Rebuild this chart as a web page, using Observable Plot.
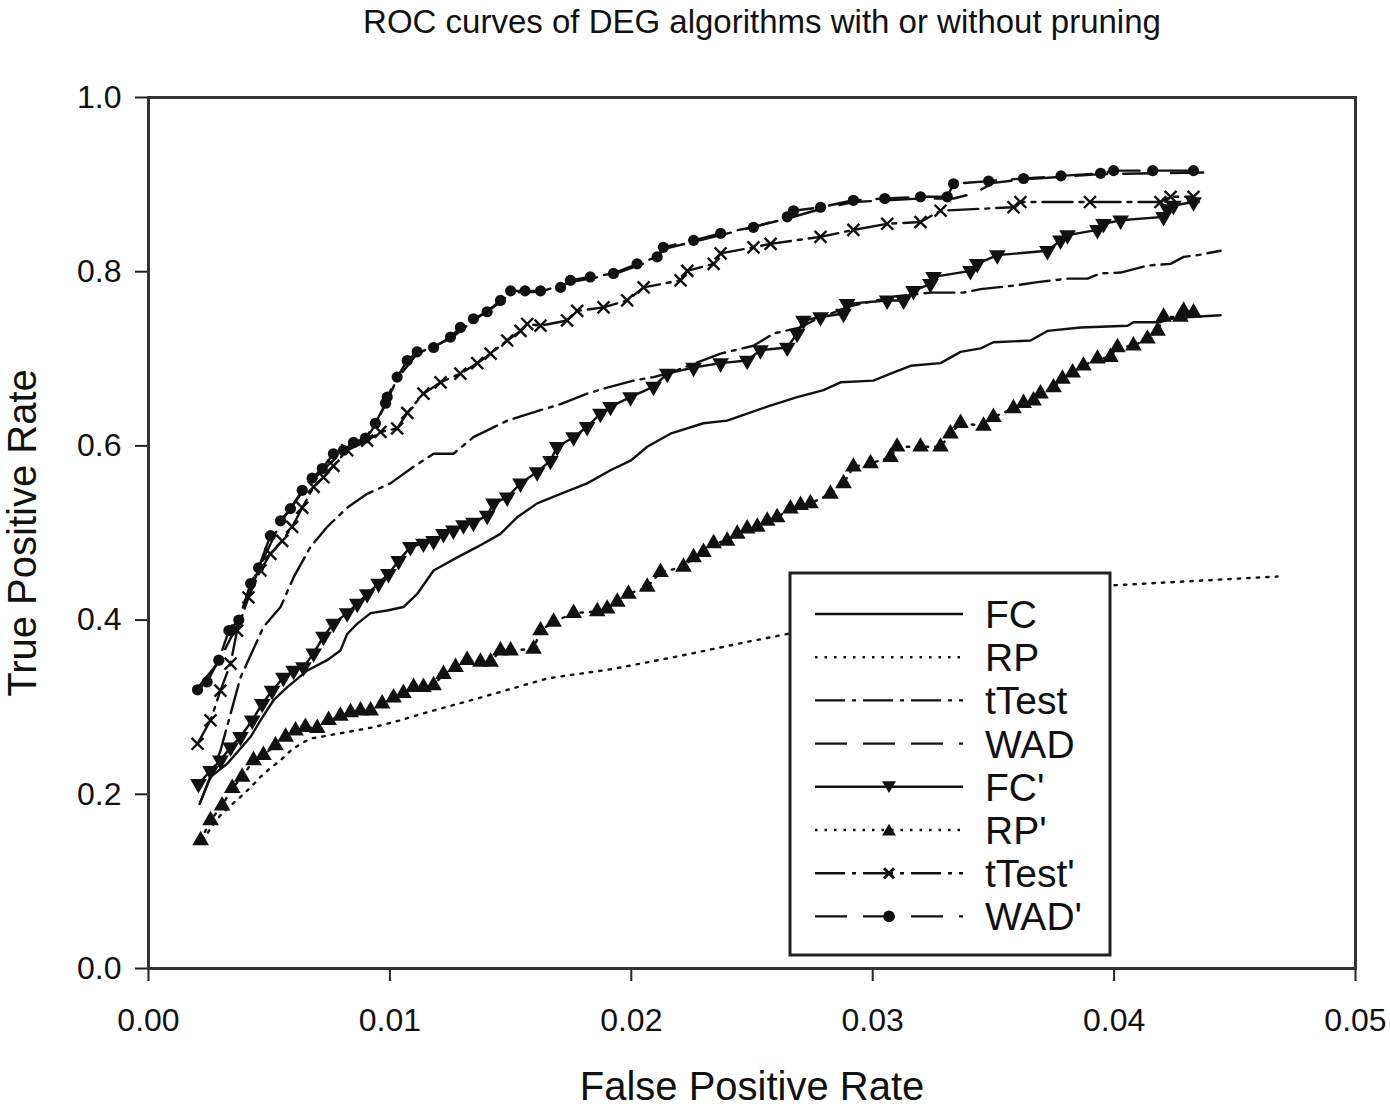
<!DOCTYPE html>
<html><head><meta charset="utf-8">
<script src="https://cdn.jsdelivr.net/npm/d3@7"></script>
<script src="https://cdn.jsdelivr.net/npm/@observablehq/plot@0.6"></script>
<style>body{margin:0;background:#fff;} #chart{width:1390px;height:1111px;}</style>
</head><body><div id="chart"></div>
<script>
const title = "ROC curves of DEG algorithms with or without pruning";
const xLabel = "False Positive Rate";
const yLabel = "True Positive Rate";
const xTicks = [0, 0.01, 0.02, 0.03, 0.04, 0.05];
const yTicks = [0, 0.2, 0.4, 0.6, 0.8, 1.0];
const seriesNames = ["FC", "RP", "tTest", "WAD", "FC'", "RP'", "tTest'", "WAD'"];

// [false positive rate, true positive rate]
const FC = [[0.00212,0.189],[0.00257,0.220],[0.00326,0.235],[0.00423,0.266],[0.00464,0.285],[0.00518,0.308],[0.00575,0.323],[0.00657,0.342],[0.00740,0.354],[0.00795,0.365],[0.00823,0.384],[0.00865,0.396],[0.00920,0.408],[0.00989,0.411],[0.01056,0.415],[0.01113,0.430],[0.01181,0.457],[0.01279,0.472],[0.01362,0.484],[0.01458,0.499],[0.01527,0.518],[0.01610,0.534],[0.01707,0.545],[0.01817,0.557],[0.01914,0.572],[0.01997,0.583],[0.02066,0.599],[0.02162,0.614],[0.02299,0.626],[0.02397,0.629],[0.02480,0.637],[0.02563,0.645],[0.02687,0.656],[0.02796,0.664],[0.02867,0.673],[0.03003,0.675],[0.03074,0.683],[0.03157,0.692],[0.03281,0.695],[0.03364,0.708],[0.03447,0.712],[0.03500,0.719],[0.03654,0.721],[0.03724,0.732],[0.03861,0.736],[0.04056,0.738],[0.04080,0.742],[0.04192,0.742],[0.04234,0.746],[0.04316,0.748],[0.04441,0.750]];
const RP = [[0.00225,0.147],[0.00260,0.162],[0.00298,0.176],[0.00340,0.187],[0.00381,0.197],[0.00423,0.208],[0.00464,0.220],[0.00505,0.230],[0.00547,0.239],[0.00588,0.250],[0.00630,0.258],[0.00671,0.264],[0.00754,0.268],[0.00932,0.277],[0.01044,0.285],[0.01139,0.293],[0.01375,0.311],[0.01652,0.333],[0.01926,0.344],[0.02204,0.359],[0.02480,0.375],[0.02646,0.384],[0.03000,0.400],[0.03500,0.420],[0.03998,0.440],[0.04677,0.450]];
const tTest = [[0.00212,0.189],[0.00298,0.250],[0.00381,0.334],[0.00476,0.392],[0.00547,0.415],[0.00601,0.449],[0.00671,0.484],[0.00740,0.507],[0.00823,0.529],[0.00906,0.545],[0.01002,0.557],[0.01098,0.576],[0.01181,0.591],[0.01263,0.591],[0.01346,0.610],[0.01486,0.629],[0.01624,0.641],[0.01707,0.648],[0.01817,0.660],[0.01900,0.667],[0.02009,0.675],[0.02092,0.679],[0.02162,0.684],[0.02370,0.706],[0.02506,0.715],[0.02589,0.729],[0.02701,0.736],[0.02755,0.744],[0.02900,0.760],[0.03100,0.772],[0.03239,0.776],[0.03376,0.776],[0.03447,0.780],[0.03583,0.784],[0.03683,0.788],[0.03807,0.792],[0.03890,0.792],[0.03944,0.798],[0.04027,0.799],[0.04138,0.807],[0.04234,0.809],[0.04288,0.817],[0.04346,0.819],[0.04441,0.824]];
const WAD = [[0.00203,0.322],[0.00291,0.352],[0.00374,0.398],[0.00456,0.458],[0.00547,0.512],[0.00637,0.547],[0.00720,0.572],[0.00808,0.594],[0.00899,0.608],[0.00940,0.624],[0.00982,0.648],[0.01030,0.677],[0.01113,0.706],[0.01251,0.723],[0.01346,0.744],[0.01458,0.765],[0.01500,0.776],[0.01624,0.777],[0.01748,0.788],[0.01926,0.797],[0.02107,0.815],[0.02133,0.826],[0.02370,0.842],[0.02646,0.861],[0.02784,0.872],[0.02920,0.880],[0.03198,0.884],[0.03335,0.884],[0.03420,0.890],[0.03500,0.902],[0.03625,0.906],[0.03944,0.912],[0.04406,0.914]];
const FCp = [[0.00207,0.212],[0.00257,0.227],[0.00298,0.239],[0.00340,0.254],[0.00381,0.266],[0.00430,0.285],[0.00471,0.304],[0.00512,0.319],[0.00559,0.334],[0.00601,0.342],[0.00642,0.346],[0.00684,0.362],[0.00725,0.381],[0.00766,0.396],[0.00823,0.408],[0.00865,0.419],[0.00906,0.430],[0.00953,0.442],[0.00994,0.453],[0.01036,0.468],[0.01085,0.484],[0.01139,0.488],[0.01181,0.491],[0.01222,0.499],[0.01263,0.503],[0.01305,0.509],[0.01346,0.512],[0.01403,0.520],[0.01429,0.534],[0.01486,0.541],[0.01541,0.557],[0.01610,0.570],[0.01665,0.583],[0.01693,0.599],[0.01761,0.610],[0.01817,0.622],[0.01872,0.637],[0.01914,0.645],[0.01997,0.656],[0.02092,0.668],[0.02149,0.683],[0.02258,0.690],[0.02370,0.695],[0.02480,0.698],[0.02535,0.710],[0.02646,0.713],[0.02687,0.729],[0.02713,0.744],[0.02784,0.748],[0.02879,0.752],[0.02894,0.763],[0.03060,0.767],[0.03128,0.767],[0.03169,0.778],[0.03239,0.786],[0.03252,0.794],[0.03405,0.801],[0.03433,0.809],[0.03516,0.819],[0.03724,0.824],[0.03778,0.836],[0.03807,0.842],[0.03931,0.848],[0.03956,0.855],[0.04027,0.859],[0.04205,0.863],[0.04221,0.872],[0.04246,0.876],[0.04329,0.880]];
const RPp = [[0.00216,0.147],[0.00257,0.170],[0.00305,0.187],[0.00347,0.207],[0.00388,0.220],[0.00435,0.239],[0.00476,0.245],[0.00526,0.256],[0.00568,0.266],[0.00609,0.273],[0.00650,0.277],[0.00699,0.276],[0.00746,0.285],[0.00795,0.290],[0.00837,0.294],[0.00878,0.296],[0.00920,0.296],[0.00968,0.304],[0.01015,0.311],[0.01056,0.316],[0.01098,0.323],[0.01139,0.323],[0.01181,0.325],[0.01222,0.338],[0.01272,0.346],[0.01320,0.354],[0.01375,0.352],[0.01417,0.352],[0.01458,0.365],[0.01500,0.365],[0.01595,0.367],[0.01624,0.388],[0.01678,0.398],[0.01761,0.408],[0.01859,0.410],[0.01900,0.413],[0.01942,0.421],[0.01988,0.430],[0.02066,0.438],[0.02121,0.455],[0.02216,0.461],[0.02258,0.472],[0.02299,0.478],[0.02341,0.488],[0.02397,0.491],[0.02439,0.499],[0.02480,0.505],[0.02522,0.507],[0.02563,0.514],[0.02604,0.518],[0.02659,0.528],[0.02701,0.532],[0.02742,0.534],[0.02825,0.545],[0.02879,0.557],[0.02920,0.576],[0.02991,0.580],[0.03074,0.587],[0.03101,0.599],[0.03198,0.599],[0.03281,0.599],[0.03322,0.614],[0.03364,0.626],[0.03459,0.623],[0.03500,0.633],[0.03583,0.643],[0.03625,0.649],[0.03666,0.652],[0.03695,0.660],[0.03749,0.667],[0.03786,0.677],[0.03828,0.684],[0.03873,0.692],[0.03931,0.700],[0.03985,0.702],[0.04014,0.713],[0.04080,0.715],[0.04138,0.723],[0.04180,0.732],[0.04205,0.748],[0.04275,0.748],[0.04288,0.755],[0.04329,0.753]];
const tTestp = [[0.00203,0.258],[0.00257,0.285],[0.00298,0.319],[0.00340,0.350],[0.00367,0.388],[0.00414,0.426],[0.00464,0.457],[0.00505,0.476],[0.00554,0.491],[0.00595,0.507],[0.00637,0.529],[0.00684,0.553],[0.00725,0.564],[0.00766,0.577],[0.00823,0.595],[0.00906,0.606],[0.00961,0.616],[0.01030,0.620],[0.01072,0.638],[0.01139,0.660],[0.01210,0.673],[0.01292,0.683],[0.01362,0.695],[0.01417,0.706],[0.01486,0.721],[0.01541,0.732],[0.01569,0.740],[0.01624,0.738],[0.01734,0.744],[0.01776,0.755],[0.01885,0.759],[0.01983,0.767],[0.02051,0.782],[0.02204,0.790],[0.02232,0.801],[0.02341,0.809],[0.02370,0.821],[0.02506,0.828],[0.02577,0.832],[0.02784,0.840],[0.02920,0.848],[0.03060,0.855],[0.03198,0.857],[0.03281,0.870],[0.03583,0.874],[0.03612,0.880],[0.03900,0.880],[0.04192,0.880],[0.04234,0.886],[0.04329,0.886]];
const WADp = [[0.00203,0.320],[0.00243,0.329],[0.00291,0.354],[0.00333,0.388],[0.00374,0.400],[0.00423,0.442],[0.00456,0.460],[0.00505,0.497],[0.00547,0.514],[0.00588,0.528],[0.00637,0.549],[0.00678,0.563],[0.00720,0.574],[0.00766,0.591],[0.00808,0.595],[0.00849,0.604],[0.00899,0.609],[0.00940,0.626],[0.00982,0.649],[0.00989,0.656],[0.01030,0.679],[0.01072,0.698],[0.01113,0.708],[0.01181,0.713],[0.01251,0.725],[0.01292,0.736],[0.01346,0.746],[0.01403,0.754],[0.01458,0.767],[0.01500,0.778],[0.01560,0.778],[0.01624,0.778],[0.01707,0.782],[0.01748,0.790],[0.01830,0.794],[0.01926,0.798],[0.02024,0.809],[0.02107,0.817],[0.02133,0.828],[0.02258,0.836],[0.02370,0.844],[0.02506,0.851],[0.02646,0.863],[0.02672,0.870],[0.02784,0.874],[0.02920,0.882],[0.03050,0.884],[0.03198,0.886],[0.03309,0.886],[0.03335,0.901],[0.03480,0.904],[0.03625,0.907],[0.03780,0.910],[0.03944,0.913],[0.03998,0.916],[0.04160,0.916],[0.04329,0.916]];

const seriesData = {"FC": FC, "RP": RP, "tTest": tTest, "WAD": WAD, "FC'": FCp, "RP'": RPp, "tTest'": tTestp, "WAD'": WADp};

const styles = {
  "FC":     {dash: null, symbol: null},
  "RP":     {dash: "2.5,7", symbol: null},
  "tTest":  {dash: "30,7,4,7", symbol: null},
  "WAD":    {dash: "32,16", symbol: null},
  "FC'":    {dash: null, symbol: "triangle", rotate: 180},
  "RP'":    {dash: "2.5,7", symbol: "triangle", rotate: 0},
  "tTest'": {dash: "30,7,4,7", symbol: "times", rotate: 0},
  "WAD'":   {dash: "32,16", symbol: "circle", rotate: 0}
};

const font = "'Liberation Sans', Arial, Helvetica, sans-serif";
const marks = [];
for (const name of seriesNames) {
  const st = styles[name];
  marks.push(Plot.line(seriesData[name], {x: d => d[0], y: d => d[1], stroke: "#111", strokeWidth: 2.4, strokeDasharray: st.dash}));
}
for (const name of seriesNames) {
  const st = styles[name];
  if (!st.symbol) continue;
  if (st.symbol === "times") {
    marks.push(Plot.dot(seriesData[name], {x: d => d[0], y: d => d[1], symbol: "times", stroke: "#111", strokeWidth: 2.4, r: 5.5}));
  } else {
    marks.push(Plot.dot(seriesData[name], {x: d => d[0], y: d => d[1], symbol: st.symbol, rotate: st.rotate, fill: "#111", stroke: "none", r: st.symbol === "circle" ? 5.6 : 6.2}));
  }
}

const plot = Plot.plot({
  width: 1390,
  height: 1111,
  marginTop: 97,
  marginLeft: 148,
  marginRight: 35,
  marginBottom: 143,
  style: {fontFamily: font, background: "#fff", color: "#111"},
  x: {domain: [0, 0.05]},
  y: {domain: [0, 1]},
  marks: [
    Plot.axisX({ticks: xTicks, tickFormat: d3.format(".2f"), tickSize: 13, tickPadding: 27, fontSize: 32, label: null, strokeWidth: 2, stroke: "#222"}),
    Plot.axisY({ticks: yTicks, tickFormat: d3.format(".1f"), tickSize: 13, tickPadding: 14, fontSize: 32, label: null, strokeWidth: 2, stroke: "#222"}),
    ...marks,
    Plot.frame({stroke: "#333", strokeWidth: 3}),
    Plot.text([title], {text: d => d, frameAnchor: "top", dx: 10, dy: -75, fontSize: 33, lineAnchor: "middle", textAnchor: "middle", fill: "#111"}),
    Plot.text([xLabel], {text: d => d, frameAnchor: "bottom", dy: 119, fontSize: 40, lineAnchor: "middle", textAnchor: "middle", fill: "#111"}),
    Plot.text([yLabel], {text: d => d, frameAnchor: "left", dx: -125, rotate: -90, fontSize: 40, lineAnchor: "middle", textAnchor: "middle", fill: "#111"})
  ]
});
document.getElementById("chart").appendChild(plot);

// legend box (drawn on top, white fill hides curves below)
const svg = d3.select(plot);
const lg = svg.append("g").attr("font-family", font).attr("text-anchor", "start");
lg.append("rect").attr("x", 790).attr("y", 573).attr("width", 320).attr("height", 382)
  .attr("fill", "#fff").attr("stroke", "#222").attr("stroke-width", 3);
seriesNames.forEach((name, i) => {
  const st = styles[name];
  const cy = 614 + i * 43.2;
  lg.append("line").attr("x1", 815).attr("x2", 963).attr("y1", cy).attr("y2", cy)
    .attr("stroke", "#111").attr("stroke-width", 2.4).attr("stroke-dasharray", st.dash);
  if (st.symbol === "circle") {
    lg.append("circle").attr("cx", 889).attr("cy", cy).attr("r", 5.8).attr("fill", "#111");
  } else if (st.symbol === "triangle") {
    const s = 7;
    const pts = st.rotate === 180
      ? [[889 - s, cy - s * 0.8], [889 + s, cy - s * 0.8], [889, cy + s * 0.9]]
      : [[889 - s, cy + s * 0.8], [889 + s, cy + s * 0.8], [889, cy - s * 0.9]];
    lg.append("polygon").attr("points", pts.map(p => p.join(",")).join(" ")).attr("fill", "#111");
  } else if (st.symbol === "times") {
    lg.append("path").attr("d", `M${884},${cy-5}L${894},${cy+5}M${894},${cy-5}L${884},${cy+5}`)
      .attr("stroke", "#111").attr("stroke-width", 3);
  }
  lg.append("text").attr("x", 985).attr("y", cy).attr("dy", "0.36em").attr("text-anchor", "start")
    .attr("font-size", 39).attr("fill", "#111").text(name);
});
</script>
</body></html>
